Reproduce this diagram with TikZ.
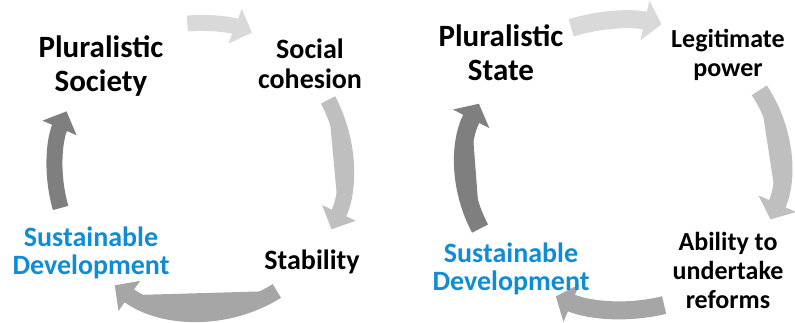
\documentclass[tikz,border=0pt]{standalone}
\usepackage{fontspec}
\setmainfont{Carlito}
\usetikzlibrary{arrows.meta}

\definecolor{sdblue}{RGB}{16,140,214}
\definecolor{grayA}{HTML}{D9D9D9}
\definecolor{grayB}{HTML}{BFBFBF}
\definecolor{grayC}{HTML}{A6A6A6}
\definecolor{grayD}{HTML}{7F7F7F}

\tikzset{
  cycleft/.style={line width=16pt, -{Triangle[width=36pt,length=18pt]}},
  cycright/.style={line width=18pt, -{Triangle[width=40pt,length=17pt]}},
  title/.style={font=\bfseries\fontsize{31}{34}\selectfont, align=center},
  stepname/.style={font=\bfseries\fontsize{28}{30}\selectfont, align=center},
  stepsmall/.style={font=\bfseries\fontsize{26}{29}\selectfont, align=center},
  goal/.style={font=\bfseries\fontsize{28}{28.5}\selectfont, align=center, text=sdblue}
}

\begin{document}
\begin{tikzpicture}[x=1pt,y=1pt]
\useasboundingbox (0,0) rectangle (795,323);

\coordinate (cl) at (200,155);
\coordinate (cr) at (623,158);

% left cycle
\foreach \s/\e/\c in {95/69/grayA,28/-25/grayB,-58/-126/grayC,196/157/grayD} {
        \draw[cycleft, draw=\c, fill=\c] (cl) ++(\s:145pt) arc[start angle=\s, end angle=\e, radius=145pt];
}

\node[title] (plurl) at (101,257) {Pluralistic\\Society};
\node[stepname] (social) at (310,259) {Social\\cohesion};
\node[stepname] (stab) at (312,61) {Stability};
\node[goal] (sdl) at (91,70) {Sustainable\\Development};

% right cycle
\foreach \s/\e/\c in {109/76/grayA,31/-22/grayB,-75/-115/grayC,206/155/grayD} {
        \draw[cycright, draw=\c, fill=\c] (cr) ++(\s:159pt and 145pt) arc[start angle=\s, end angle=\e, x radius=159pt, y radius=145pt];
}

\node[title] (plurr) at (501,270) {Pluralistic\\State};
\node[stepsmall] (legit) at (728,268) {Legitimate\\power};
\node[stepsmall] (abil) at (728,53) {Ability to\\undertake\\reforms};
\node[goal] (sdr) at (511,54) {Sustainable\\Development};
\end{tikzpicture}
\end{document}
